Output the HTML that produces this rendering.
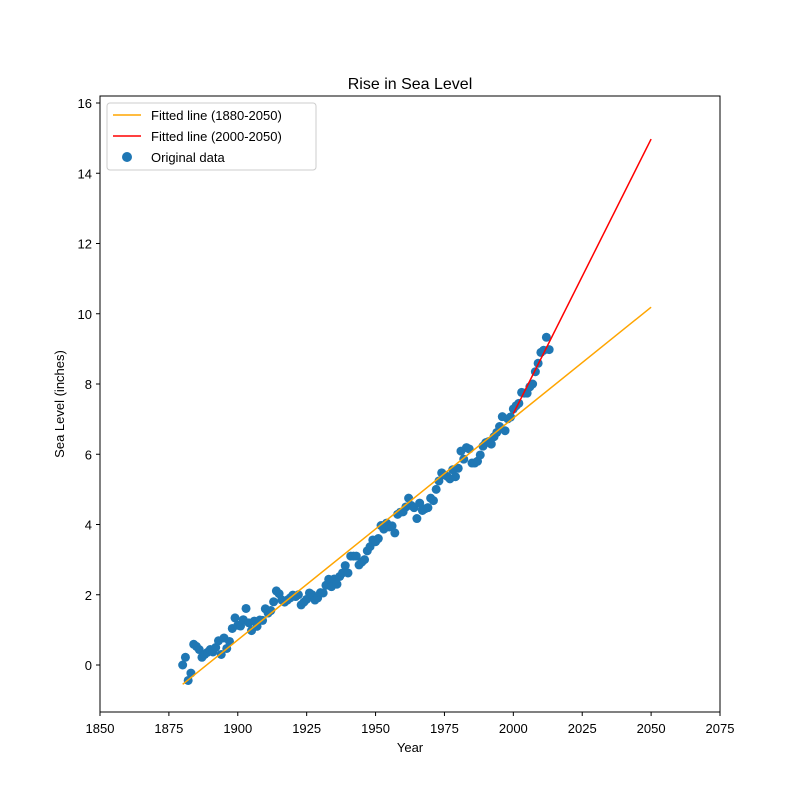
<!DOCTYPE html>
<html><head><meta charset="utf-8"><style>
body{margin:0;background:#fff}
svg{font-family:"Liberation Sans","DejaVu Sans",sans-serif}
</style></head><body>
<svg id="chart" width="800" height="800">
<rect width="800" height="800" fill="#fff"/>
<text x="410" y="89" text-anchor="middle" font-size="16">Rise in Sea Level</text>
<text x="410" y="752" text-anchor="middle" font-size="13">Year</text>
<text transform="translate(64,404) rotate(-90)" text-anchor="middle" font-size="13">Sea Level (inches)</text>
<g id="ticks"></g>
<g id="marks"></g>
<rect x="100" y="96" width="620" height="616" fill="none" stroke="#000" stroke-width="1"/>
<g>
<rect x="107" y="103" width="209" height="67" rx="3" fill="#fff" fill-opacity="0.8" stroke="#ccc"/>
<line x1="113" y1="115" x2="141" y2="115" stroke="orange" stroke-width="1.5"/>
<text x="151" y="120" font-size="13">Fitted line (1880-2050)</text>
<line x1="113" y1="136" x2="141" y2="136" stroke="red" stroke-width="1.5"/>
<text x="151" y="141" font-size="13">Fitted line (2000-2050)</text>
<circle cx="127" cy="157" r="5" fill="#1f77b4"/>
<text x="151" y="162" font-size="13">Original data</text>
</g>
</svg>
<script>
const levels=[0,0.22,-0.44,-0.23,0.59,0.53,0.44,0.22,0.30,0.36,0.44,0.37,0.50,0.69,0.30,0.77,0.47,0.67,1.04,1.34,1.13,1.11,1.29,1.61,1.20,0.98,1.25,1.10,1.28,1.27,1.60,1.48,1.55,1.80,2.11,2.03,1.85,1.79,1.85,1.91,1.99,1.95,2.00,1.71,1.79,1.87,2.05,2.00,1.85,1.91,2.06,2.05,2.27,2.44,2.23,2.45,2.30,2.52,2.62,2.83,2.62,3.10,3.10,3.10,2.85,2.93,3.00,3.25,3.37,3.56,3.51,3.60,3.97,3.87,4.04,3.93,3.96,3.76,4.29,4.35,4.36,4.50,4.75,4.54,4.48,4.17,4.61,4.40,4.45,4.48,4.75,4.68,5.00,5.24,5.47,5.41,5.37,5.30,5.56,5.36,5.60,6.09,5.86,6.19,6.15,5.75,5.75,5.80,5.98,6.23,6.33,6.36,6.29,6.50,6.62,6.79,7.07,6.67,7.01,7.06,7.29,7.38,7.45,7.76,7.74,7.74,7.92,8.00,8.35,8.59,8.90,8.96,9.33,8.98];
const startYear=1880;
const years=levels.map((v,i)=>startYear+i);
const xTicks=[1850,1875,1900,1925,1950,1975,2000,2025,2050,2075];
const yTicks=[0,2,4,6,8,10,12,14,16];
const X=v=>100+(v-1850)*620/225;
const Y=v=>665-v*35.125;
const NS='http://www.w3.org/2000/svg';
function mk(t,a,p){const e=document.createElementNS(NS,t);for(const k in a)e.setAttribute(k,a[k]);p.appendChild(e);return e;}
const tg=document.getElementById('ticks'),mg=document.getElementById('marks');
xTicks.forEach(t=>{const l=mk('line',{x1:X(t),x2:X(t),y1:712,y2:716,stroke:'#000'},tg);


const s=mk('text',{x:X(t),y:733,'text-anchor':'middle','font-size':13},tg);s.textContent=t;

});
yTicks.forEach(t=>{const l=mk('line',{x1:96,x2:100,y1:Y(t),y2:Y(t),stroke:'#000'},tg);


const s=mk('text',{x:92,y:Y(t)+5,'text-anchor':'end','font-size':13},tg);s.textContent=t;

});
function fit(xs,ys){const px=[],py=[];for(let i=0;i<xs.length;i++){if(isFinite(ys[i])){px.push(xs[i]);py.push(ys[i]);}}const n=px.length;const mx=px.reduce((a,b)=>a+b)/n,my=py.reduce((a,b)=>a+b)/n;let sxy=0,sxx=0;for(let i=0;i<n;i++){sxy+=(px[i]-mx)*(py[i]-my);sxx+=(px[i]-mx)**2;}const m=sxy/sxx;return{m,b:my-m*mx};}
years.forEach((y,i)=>{const c=mk('circle',{cx:X(y),cy:Y(levels[i]),r:4.5,fill:'#1f77b4'},mg);

});
const f1=fit(years,levels);
const l1=mk('line',{x1:X(1880),y1:Y(f1.m*1880+f1.b),x2:X(2050),y2:Y(f1.m*2050+f1.b),stroke:'orange','stroke-width':1.5},mg);


const rx=[],ry=[];years.forEach((y,i)=>{if(y>=2000){rx.push(y);ry.push(levels[i]);}});
const f2=fit(rx,ry);
const l2=mk('line',{x1:X(2000),y1:Y(f2.m*2000+f2.b),x2:X(2050),y2:Y(f2.m*2050+f2.b),stroke:'red','stroke-width':1.5},mg);


</script>
</body></html>
